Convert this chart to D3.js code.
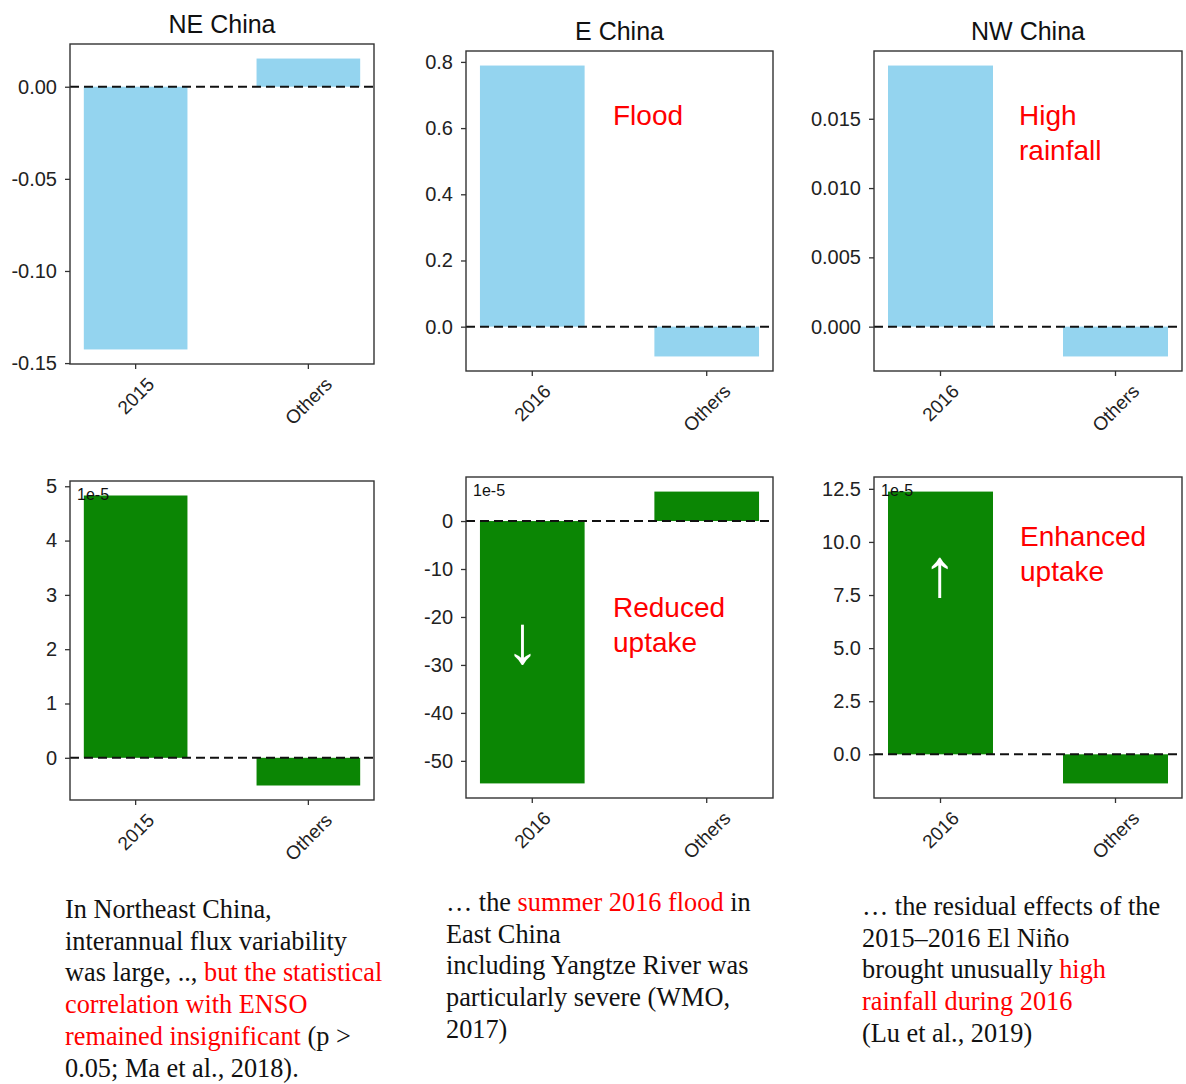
<!DOCTYPE html>
<html>
<head>
<meta charset="utf-8">
<script src="https://cdn.jsdelivr.net/npm/d3@7"></script>
<style>
  body { margin: 0; background: #fff; }
  svg { display: block; }
</style>
</head>
<body>
<script>
// Regions and bar categories
const regions = ["NE China", "E China", "NW China"];
const categories = [["2015", "Others"], ["2016", "Others"], ["2016", "Others"]];

// Top row: precipitation anomaly per region
const rainValues = [[-0.1426, 0.0153], [0.789, -0.090], [0.01884, -0.00215]];
// Bottom row: carbon flux anomaly per region, in units of 1e-5
const fluxValues = [[4.83, -0.51], [-54.7, 6.14], [12.37, -1.37]];
const fluxExponent = "1e-5";

// Y tick values and formats
const rainTicks = [[0, -0.05, -0.10, -0.15], [0, 0.2, 0.4, 0.6, 0.8], [0, 0.005, 0.010, 0.015]];
const rainTickFormats = [".2f", ".1f", ".3f"];
const fluxTicks = [[0, 1, 2, 3, 4, 5], [0, -10, -20, -30, -40, -50], [0, 2.5, 5, 7.5, 10, 12.5]];
const fluxTickFormats = ["d", "d", ".1f"];

// Annotations inside the panels
const rainNotes = [[], ["Flood"], ["High", "rainfall"]];
const fluxNotes = [[], ["Reduced", "uptake"], ["Enhanced", "uptake"]];
const fluxArrows = ["", "\u2193", "\u2191"];

// Captions: each line is a list of [text, highlighted]
const captions = [
  [
    [["In Northeast China,", false]],
    [["interannual flux variability", false]],
    [["was large, .., ", false], ["but the statistical", true]],
    [["correlation with ENSO", true]],
    [["remained insignificant", true], [" (p >", false]],
    [["0.05; Ma et al., 2018).", false]]
  ],
  [
    [["\u2026 the ", false], ["summer 2016 flood", true], [" in", false]],
    [["East China", false]],
    [["including Yangtze River was", false]],
    [["particularly severe (WMO,", false]],
    [["2017)", false]]
  ],
  [
    [["\u2026 the residual effects of the", false]],
    [["2015\u20132016 El Ni\u00f1o", false]],
    [["brought unusually ", false], ["high", true]],
    [["rainfall during 2016", true]],
    [["(Lu et al., 2019)", false]]
  ]
];

// ---- layout ----
const W = 1186, H = 1084;
const topFrames = [
  { x0: 70, x1: 374, y0: 44, y1: 364 },
  { x0: 466, x1: 773, y0: 51, y1: 371 },
  { x0: 874, x1: 1182, y0: 51, y1: 371 }
];
const bottomFrames = [
  { x0: 70, x1: 374, y0: 481, y1: 800 },
  { x0: 466, x1: 773, y0: 477, y1: 798 },
  { x0: 874, x1: 1182, y0: 477, y1: 798 }
];
const noteOrigins = [null, { dx: 147, y: 125 }, { dx: 145, y: 125 }];
const fluxNoteOrigins = [null, { dx: 147, y: 617 }, { dx: 146, y: 546 }];
const arrowPos = [null, { dx: -10, y: 663 }, { dx: -1, y: 596 }];
const captionOrigins = [{ x: 65, y: 918 }, { x: 446, y: 911 }, { x: 862, y: 915 }];
const captionLineHeight = 31.7;

const BLUE = "#94d4ef";
const GREEN = "#0b8604";
const RED = "#ff0000";
const SANS = "'Liberation Sans', Arial, Helvetica, sans-serif";
const SERIF = "'Liberation Serif', 'Times New Roman', serif";

const loc = d3.formatLocale({ decimal: ".", thousands: ",", grouping: [3], currency: ["", ""], minus: "-" });

const svg = d3.select("body").append("svg")
  .attr("width", W).attr("height", H)
  .attr("font-family", SANS);

function drawPanel(frame, cats, vals, ticks, fmtSpec, fill) {
  const g = svg.append("g");
  const x = d3.scaleBand().domain(cats).range([frame.x0, frame.x1])
    .paddingInner(0.4).paddingOuter(0.08);
  const lo = Math.min(0, d3.min(vals)), hi = Math.max(0, d3.max(vals));
  const pad = (hi - lo) * 0.05;
  const y = d3.scaleLinear().domain([lo - pad, hi + pad]).range([frame.y1, frame.y0]);

  const rows = cats.map((c, i) => ({ c, v: vals[i] }));
  g.selectAll("rect.bar").data(rows).join("rect")
    .attr("class", "bar")
    .attr("x", d => x(d.c))
    .attr("width", x.bandwidth())
    .attr("y", d => y(Math.max(0, d.v)))
    .attr("height", d => Math.abs(y(d.v) - y(0)))
    .attr("fill", fill);

  // dashed zero reference
  g.append("line")
    .attr("x1", frame.x0).attr("x2", frame.x1)
    .attr("y1", y(0)).attr("y2", y(0))
    .attr("stroke", "#111").attr("stroke-width", 2)
    .attr("stroke-dasharray", "9,5");

  // axes box
  g.append("rect")
    .attr("x", frame.x0).attr("y", frame.y0)
    .attr("width", frame.x1 - frame.x0).attr("height", frame.y1 - frame.y0)
    .attr("fill", "none").attr("stroke", "#333").attr("stroke-width", 1.4);

  const ya = g.append("g")
    .attr("transform", `translate(${frame.x0},0)`)
    .call(d3.axisLeft(y).tickValues(ticks).tickFormat(loc.format(fmtSpec))
      .tickSize(5).tickPadding(8));
  ya.select(".domain").remove();
  ya.selectAll(".tick line").attr("stroke", "#333").attr("stroke-width", 1.3);
  ya.selectAll(".tick text").attr("font-size", 20).attr("fill", "#222")
    .attr("font-family", SANS);

  const xa = g.append("g")
    .attr("transform", `translate(0,${frame.y1})`)
    .call(d3.axisBottom(x).tickSize(5).tickFormat(""));
  xa.select(".domain").remove();
  xa.selectAll(".tick line").attr("stroke", "#333").attr("stroke-width", 1.3);

  // rotated category labels, centred under each tick
  const fs = 19, capH = 0.716 * fs;
  cats.forEach(c => {
    const lg = g.append("g");
    const t = lg.append("text")
      .attr("text-anchor", "middle")
      .attr("y", capH / 2)
      .attr("font-size", fs)
      .attr("fill", "#222")
      .text(c);
    const L = t.node().getComputedTextLength();
    const cx = x(c) + x.bandwidth() / 2;
    const cy = frame.y1 + 12 + (L + capH) / (2 * Math.SQRT2);
    lg.attr("transform", `translate(${cx},${cy}) rotate(-45)`);
  });

  return { g, x, y };
}

// ---- top row ----
regions.forEach((r, i) => {
  const f = topFrames[i];
  drawPanel(f, categories[i], rainValues[i], rainTicks[i], rainTickFormats[i], BLUE);
  svg.append("text")
    .attr("x", (f.x0 + f.x1) / 2).attr("y", f.y0 - 11)
    .attr("text-anchor", "middle").attr("font-size", 25).attr("fill", "#111")
    .text(r);
  if (rainNotes[i].length) {
    const o = noteOrigins[i];
    const t = svg.append("text").attr("font-size", 28).attr("fill", RED);
    rainNotes[i].forEach((s, k) => {
      t.append("tspan").attr("x", f.x0 + o.dx).attr("y", o.y + k * 34.5).text(s);
    });
  }
});

// ---- bottom row ----
regions.forEach((r, i) => {
  const f = bottomFrames[i];
  const p = drawPanel(f, categories[i], fluxValues[i], fluxTicks[i], fluxTickFormats[i], GREEN);
  svg.append("text")
    .attr("x", f.x0 + 7).attr("y", f.y0 + 19)
    .attr("font-size", 16).attr("fill", "#111")
    .text(fluxExponent);
  if (fluxNotes[i].length) {
    const o = fluxNoteOrigins[i];
    const t = svg.append("text").attr("font-size", 28).attr("fill", RED);
    fluxNotes[i].forEach((s, k) => {
      t.append("tspan").attr("x", f.x0 + o.dx).attr("y", o.y + k * 34.5).text(s);
    });
  }
  if (fluxArrows[i]) {
    const a = arrowPos[i];
    const c = categories[i][0];
    svg.append("text")
      .attr("x", p.x(c) + p.x.bandwidth() / 2 + a.dx).attr("y", a.y)
      .attr("text-anchor", "middle").attr("font-size", 68).attr("fill", "#fff")
      .text(fluxArrows[i]);
  }
});

// ---- captions ----
captions.forEach((lines, i) => {
  const o = captionOrigins[i];
  const t = svg.append("text").attr("font-family", SERIF).attr("font-size", 26.3).attr("fill", "#111");
  lines.forEach((segs, k) => {
    segs.forEach((s, j) => {
      const ts = t.append("tspan").attr("fill", s[1] ? RED : "#111").text(s[0]);
      if (j === 0) ts.attr("x", o.x).attr("y", o.y + k * captionLineHeight);
    });
  });
});
</script>
</body>
</html>
